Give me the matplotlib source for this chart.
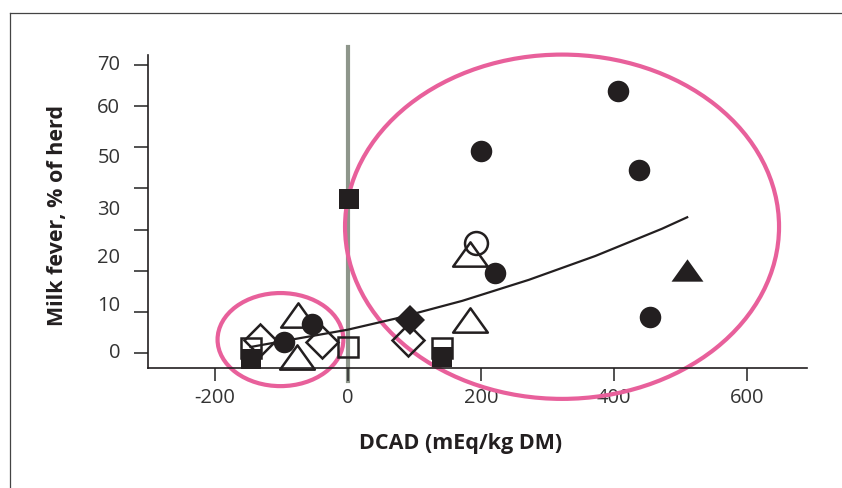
import matplotlib.pyplot as plt
from matplotlib.patches import Ellipse
from matplotlib.lines import Line2D
from matplotlib.path import Path

plt.rcParams['font.family'] = ['Open Sans', 'DejaVu Sans']

# y values are in the chart's own axis units (ticks every 10, labels placed as printed)
filled_circle_x = [406, 200, 438, 222, 454, -96, -54]
filled_circle_y = [63.7, 49.2, 44.5, 19.4, 8.8, 2.6, 7.0]
filled_square_x = [2, -146, 142]
filled_square_y = [37.5, -1.5, -0.9]
open_square_x = [-146, 1, 142]
open_square_y = [1.2, 1.4, 1.3]
open_circle_x = [192]
open_circle_y = [26.7]
open_tri_x = [184, 184, -74, -76]
open_tri_y = [24.2, 8.0, 9.2, -0.9]
filled_tri_x = [510]
filled_tri_y = [20.3]
filled_diamond_x = [94]
filled_diamond_y = [8.0]
open_diamond_x = [90, -131, -38]
open_diamond_y = [3.2, 3.3, 2.7]

trend_x = [-146, -98, -28, 0, 72, 172, 272, 372, 472, 510]
trend_y = [1.5, 2.9, 4.9, 5.7, 8.4, 12.7, 17.8, 23.6, 30.2, 33.0]

ytick_pos = [0, 10, 20, 30, 40, 50, 60, 70]
ylabel_pos = [0, 11.5, 23.2, 34.8, 47.5, 59.5, 70]
ylabel_txt = ['0', '10', '20', '30', '50', '60', '70']
xticks = [-200, 0, 200, 400, 600]

black = '#231f20'
pink = '#e8609b'
grey = '#8e968b'
txt = '#333333'

fig = plt.figure(figsize=(8.42, 4.88), dpi=100)
ax = fig.add_axes([148/842, 1-368/488, (807-148)/842, (368-55)/488])
ax.set_xlim(-300, 690)
ax.set_ylim(-3.6, 72.4)

# frame lines round the figure
fig.add_artist(Line2D([10/842, 1], [1-13/488, 1-13/488], color='#444444', lw=0.9))
fig.add_artist(Line2D([10/842, 10/842], [0, 1-13/488], color='#444444', lw=0.9))

ax.axvline(0, ymin=-0.04, ymax=1.026, color=grey, lw=3, clip_on=False, zorder=1)

ax.add_patch(Ellipse((-101, 3.3), 189, 22.6, fill=False, ec=pink, lw=3, clip_on=False, zorder=2))
ax.add_patch(Ellipse((322, 30.7), 652, 83.6, fill=False, ec=pink, lw=3, clip_on=False, zorder=2))

tri = Path([(-1, -0.7), (1, -0.7), (0, 0.7), (-1, -0.7)],
           [Path.MOVETO, Path.LINETO, Path.LINETO, Path.CLOSEPOLY])

ax.plot(trend_x, trend_y, color=black, lw=1.6, zorder=3)

kw = dict(ls='none', clip_on=False, zorder=4)
ax.plot(open_tri_x, open_tri_y, marker=tri, ms=25, mfc='none', mec=black, mew=1.8, **kw)
ax.plot(open_circle_x, open_circle_y, marker='o', ms=16.5, mfc='none', mec=black, mew=1.8, **kw)
ax.plot(open_diamond_x, open_diamond_y, marker='D', ms=16, mfc='none', mec=black, mew=1.8, **kw)
ax.plot(open_square_x, open_square_y, marker='s', ms=14.5, mfc='none', mec=black, mew=1.8, **kw)
ax.plot(filled_square_x, filled_square_y, marker='s', ms=15, mfc=black, mec=black, mew=0, **kw)
ax.plot(filled_diamond_x, filled_diamond_y, marker='D', ms=15.5, mfc=black, mec=black, mew=0, **kw)
ax.plot(filled_tri_x, filled_tri_y, marker=tri, ms=23, mfc=black, mec=black, mew=0, **kw)
ax.plot(filled_circle_x, filled_circle_y, marker='o', ms=15.5, mfc=black, mec=black, mew=0, **kw)

for s in ['top', 'right']:
    ax.spines[s].set_visible(False)
for s in ['left', 'bottom']:
    ax.spines[s].set_color(black)
    ax.spines[s].set_linewidth(1.2)

ax.set_xticks(xticks)
ax.set_xticklabels([str(v) for v in xticks])
ax.tick_params(axis='x', direction='out', length=9.5, width=1.2, color=txt,
               labelsize=14.5, labelcolor=txt, pad=5)

ax.set_yticks(ytick_pos)
ax.set_yticklabels([])
ax.tick_params(axis='y', direction='out', length=10, width=1.2, color=txt)

# the printed y labels sit off the tick marks, so place them as text
ytrans = ax.get_yaxis_transform()
for pos, lab in zip(ylabel_pos, ylabel_txt):
    ax.text(-0.042, pos, lab, transform=ytrans, ha='right', va='center',
            fontsize=14.5, color=txt)

fig.text(58/842, 1-216/488, 'Milk fever, % of herd', rotation=90, ha='center', va='center',
         fontsize=15.5, fontweight='bold', color=black)
fig.text(461/842, 1-443/488, 'DCAD (mEq/kg DM)', ha='center', va='center',
         fontsize=15.5, fontweight='bold', color=black)

fig.savefig('out.png', dpi=100)
